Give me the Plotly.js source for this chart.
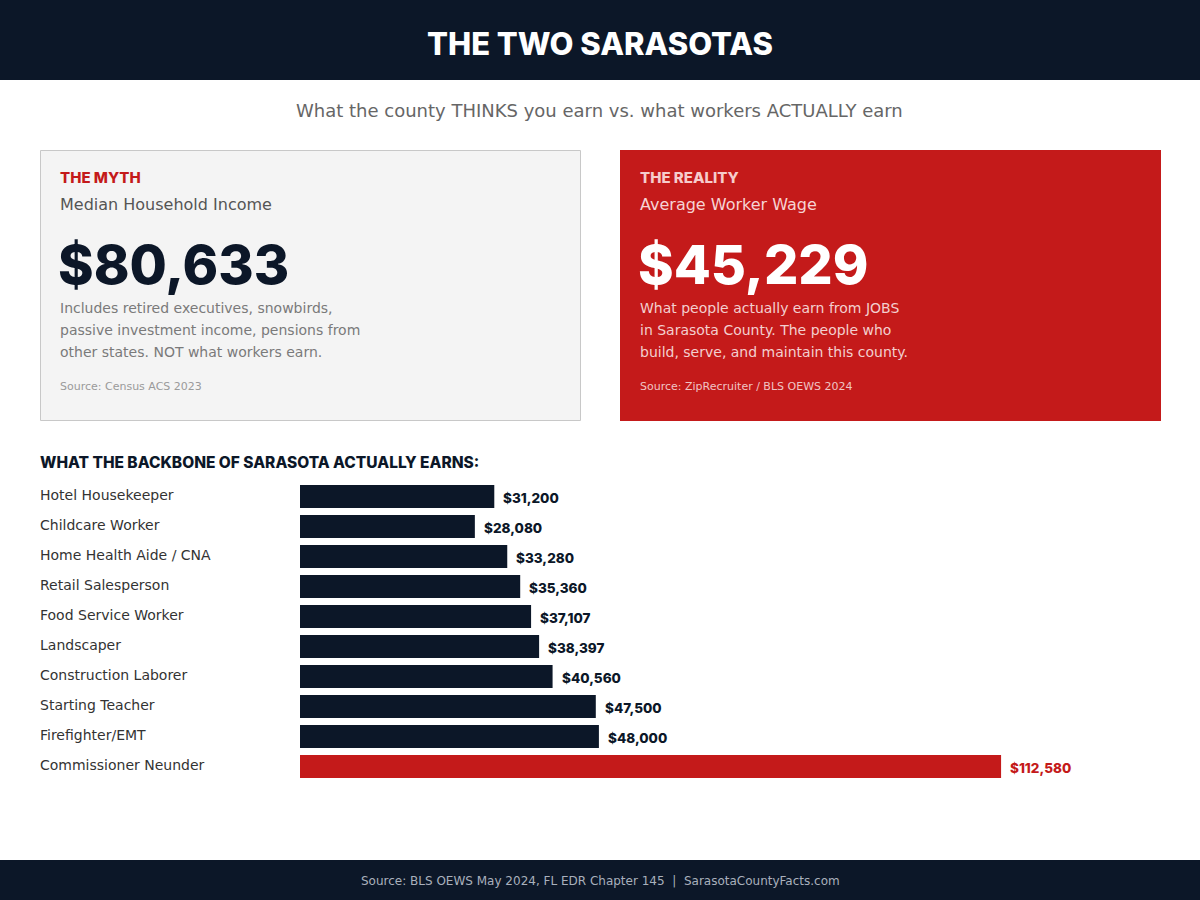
<!DOCTYPE html>
<html>
<head>
<meta charset="utf-8">
<script src="https://cdn.plot.ly/plotly-3.0.1.min.js"></script>
<style>
  html, body { margin: 0; padding: 0; background: #fff; }
  #chart { width: 1200px; height: 900px; }
</style>
</head>
<body>
<div id="chart"></div>
<script>
// jobs and what they pay (annual, USD)
var jobs = ["Hotel Housekeeper", "Childcare Worker", "Home Health Aide / CNA", "Retail Salesperson",
            "Food Service Worker", "Landscaper", "Construction Laborer", "Starting Teacher",
            "Firefighter/EMT", "Commissioner Neunder"];
var wages = [31200, 28080, 33280, 35360, 37107, 38397, 40560, 47500, 48000, 112580];
var highlight = [false, false, false, false, false, false, false, false, false, true];

var mythValue = 80633;
var realityValue = 45229;
var mythLines = ["Includes retired executives, snowbirds,", "passive investment income, pensions from",
                 "other states. NOT what workers earn."];
var realityLines = ["What people actually earn from JOBS", "in Sarasota County. The people who",
                    "build, serve, and maintain this county."];

var NAVY = "#0c1728";
var RED = "#c41a1a";
var HEAD = "Inter, 'Open Sans', sans-serif";
var BODY = "'DejaVu Sans', sans-serif";

function money(v){
    return "$" + v.toLocaleString("en-US");
}

// pixel -> paper helpers (page is 1200x900, no margins)
function px(x){ return x / 1200; }
function py(y){ return 1 - y / 900; }

var barColors = highlight.map(h => h ? RED : NAVY);

var bars = {
    type: "bar",
    orientation: "h",
    x: wages,
    y: jobs,
    marker: {color: barColors, line: {width: 0}},
    hoverinfo: "x+y",
    showlegend: false
};

var shapes = [];
// header / footer bands
shapes.push({type: "rect", xref: "paper", yref: "paper", x0: 0, x1: 1, y0: py(80), y1: 1,
             fillcolor: NAVY, line: {width: 0}, layer: "below"});
shapes.push({type: "rect", xref: "paper", yref: "paper", x0: 0, x1: 1, y0: 0, y1: py(860),
             fillcolor: NAVY, line: {width: 0}, layer: "below"});
// myth / reality cards
shapes.push({type: "rect", xref: "paper", yref: "paper", x0: px(40.5), x1: px(580.5), y0: py(420.5), y1: py(150.5),
             fillcolor: "#f4f4f4", line: {color: "#c8c8c8", width: 1}, layer: "below"});
shapes.push({type: "rect", xref: "paper", yref: "paper", x0: px(620), x1: px(1161), y0: py(421), y1: py(150),
             fillcolor: RED, line: {width: 0}, layer: "below"});

var ann = [];
// annotations carry ~2px of padding, so x is nudged left to land on the pixel
function txt(x, y, text, size, color, family, weight, anchor){
    anchor = anchor || "left";
    ann.push({xref: "paper", yref: "paper", x: px(anchor === "left" ? x - 2 : x), y: py(y), text: text,
              showarrow: false, xanchor: anchor, yanchor: "middle",
              font: {size: size, color: color, family: family, weight: weight || 400}});
}

txt(600, 43, "THE TWO SARASOTAS", 31, "#ffffff", HEAD, 800, "center");
txt(599, 111, "What the county THINKS you earn vs. what workers ACTUALLY earn", 18, "#666666", BODY, 400, "center");

// myth card
txt(60, 177, "THE MYTH", 15, RED, HEAD, 800);
txt(60, 204, "Median Household Income", 16, "#555555", BODY);
txt(58, 264, money(mythValue), 54, NAVY, HEAD, 800);
mythLines.forEach((l, i) => txt(60, 308 + i * 22, l, 14, "#7a7a7a", BODY));
txt(60, 387, "Source: Census ACS 2023", 11, "#9a9a9a", BODY);

// reality card
txt(640, 177, "THE REALITY", 15, "#f6cccc", HEAD, 800);
txt(640, 204, "Average Worker Wage", 16, "#f6d4d4", BODY);
txt(638, 264, money(realityValue), 54, "#ffffff", HEAD, 800);
realityLines.forEach((l, i) => txt(640, 308 + i * 22, l, 14, "#f3cfcf", BODY));
txt(640, 387, "Source: ZipRecruiter / BLS OEWS 2024", 11, "#f0c4c4", BODY);

txt(40, 462, "WHAT THE BACKBONE OF SARASOTA ACTUALLY EARNS:", 15.5, NAVY, HEAD, 800);

// category labels on the left and value labels after the bars
jobs.forEach(function(j, i){
    ann.push({xref: "paper", yref: "y", x: px(38), y: j, text: j, showarrow: false,
              xanchor: "left", yanchor: "middle", yshift: 1.5,
              font: {size: 14, color: "#333333", family: BODY}});
    ann.push({xref: "x", yref: "y", x: wages[i], y: j, text: money(wages[i]), showarrow: false,
              xanchor: "left", yanchor: "middle", xshift: 7, yshift: -1,
              font: {size: 13.5, color: highlight[i] ? RED : NAVY, family: HEAD, weight: 800}});
});

txt(600, 881, "Source: BLS OEWS May 2024, FL EDR Chapter 145  |  SarasotaCountyFacts.com", 12, "#a9b0bc", BODY, 400, "center");

var layout = {
    width: 1200,
    height: 900,
    margin: {l: 0, r: 0, t: 0, b: 0},
    paper_bgcolor: "#ffffff",
    plot_bgcolor: "rgba(0,0,0,0)",
    bargap: 0.23,
    xaxis: {domain: [px(300), px(1160)], range: [0, 138100], visible: false, fixedrange: true},
    yaxis: {domain: [py(781.5), py(481.5)], autorange: "reversed", visible: false, fixedrange: true,
            type: "category"},
    shapes: shapes,
    annotations: ann,
    hovermode: "closest"
};

Plotly.newPlot("chart", [bars], layout, {displayModeBar: false});
</script>
</body>
</html>
